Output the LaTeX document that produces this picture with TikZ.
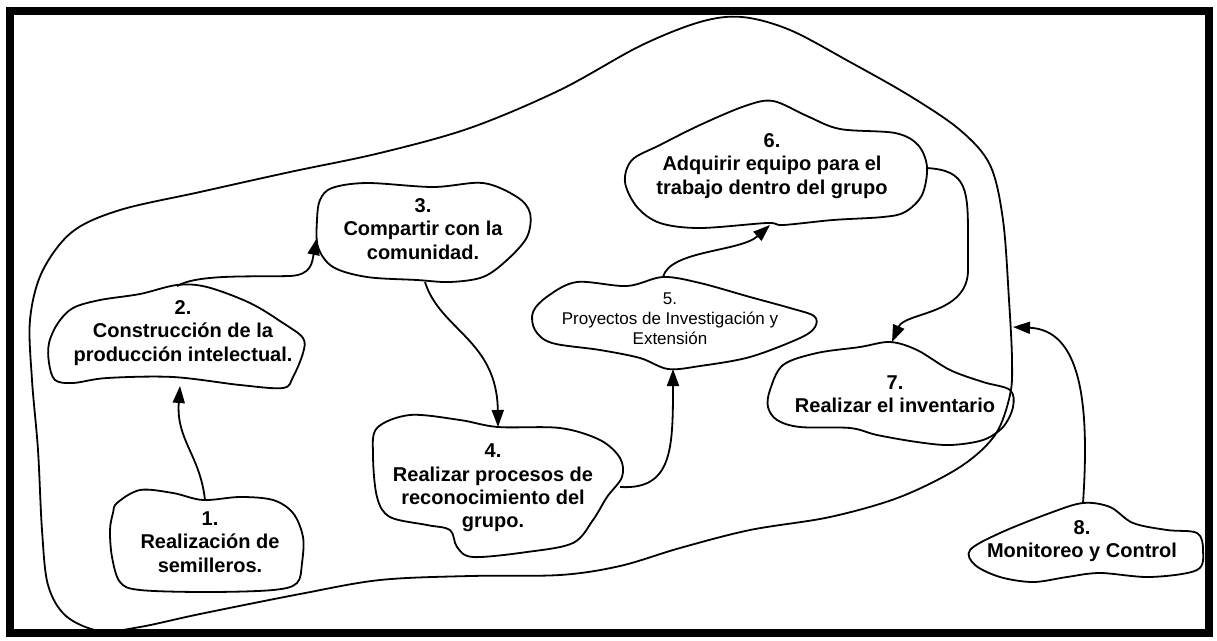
\documentclass[tikz,border=0pt]{standalone}
\usepackage{fontspec}
\setmainfont{Liberation Sans}
\usetikzlibrary{arrows.meta}
\begin{document}
\begin{tikzpicture}[x=1pt,y=-1pt,
  blob/.style={draw=black,line width=1.8pt,line join=round},
  label/.style={align=center,inner sep=0pt,font=\bfseries\fontsize{20}{23.3}\selectfont},
  smalllabel/.style={align=center,inner sep=0pt,font=\fontsize{17}{20}\selectfont},
  link/.style={draw=black,line width=1.8pt,-{Triangle[length=17pt,width=12pt]}}]
\useasboundingbox (0,0) rectangle (1217,640);
% frame
\draw[line width=8pt] (10,11) rectangle (1209,632.5);

% large enclosing outline
\draw[blob] plot[smooth cycle,tension=0.55] coordinates {
 (100,631) (66,616) (48,585) (42,530) (38,450) (32,380) (30,320) (42,272)
 (72,232) (120,210) (200,192) (290,172) (380,153) (470,128) (560,90)
 (640,46) (700,22) (742,17) (790,30) (850,62) (910,96) (960,130)
 (990,165) (1003,220) (1009,300) (1012,360) (1010,395) (995,435)
 (960,467) (900,497) (830,517) (750,530) (680,548) (620,566) (560,575)
 (470,576) (380,580) (300,594) (200,614) (140,627)};

% step outlines
\draw[blob] plot[smooth cycle,tension=0.55] coordinates {
 (117,503) (140,490) (173,493) (203,500) (240,497) (273,500) (293,513)
 (303,537) (302,563) (297,583) (273,590) (207,592) (140,590) (120,582)
 (112,557) (110,530) (113,513)};
\draw[blob] plot[smooth cycle,tension=0.55] coordinates {
 (100,300) (140,294) (177,285) (207,287) (250,303) (283,323) (303,338)
 (303,353) (293,377) (283,388) (240,385) (173,377) (107,378) (73,383)
 (55,380) (49,363) (49,343) (58,323) (73,308)};
\draw[blob] plot[smooth cycle,tension=0.55] coordinates {
 (320,200) (332,188) (367,183) (433,187) (483,183) (517,197) (530,213)
 (527,237) (507,260) (483,277) (450,282) (417,280) (367,277) (333,267)
 (318,247) (317,220)};
\draw[blob] plot[smooth cycle,tension=0.55] coordinates {
 (377,428) (410,415) (460,420) (498,427) (560,428) (600,440) (620,458)
 (622,477) (607,497) (593,520) (573,543) (527,552) (473,557) (457,547)
 (450,530) (427,525) (390,517) (377,497) (373,455)};
\draw[blob] plot[smooth cycle,tension=0.55] coordinates {
 (533,312) (548,296) (577,282) (627,286) (663,277) (700,283) (750,297)
 (790,308) (814,316) (815,327) (800,338) (750,357) (700,366) (668,369)
 (640,358) (600,350) (552,343) (535,330)};
\draw[blob] plot[smooth cycle,tension=0.55] coordinates {
 (632,160) (660,145) (700,125) (745,106) (773,101) (807,116) (840,129)
 (895,133) (918,145) (927,167) (922,195) (905,212) (883,217) (833,220)
 (783,225) (767,223) (700,228) (660,223) (637,207) (625,182)};
\draw[blob] plot[smooth cycle,tension=0.55] coordinates {
 (770,390) (783,365) (817,353) (860,347) (890,342) (917,350) (950,370)
 (983,382) (1010,390) (1013,407) (1003,427) (983,440) (950,445)
 (917,442) (877,435) (850,428) (800,427) (777,420) (768,407)};
\draw[blob] plot[smooth cycle,tension=0.55] coordinates {
 (1050,513) (1083,503) (1110,507) (1133,523) (1167,530) (1197,533)
 (1203,550) (1197,570) (1150,577) (1100,573) (1067,577) (1033,582)
 (1000,577) (975,565) (970,550) (1000,533)};

% step texts
\node[label] (n1) at (210,542) {1.\\Realización de\\semilleros.};
\node[label] (n2) at (183,333) {2.\\Construcción de la\\producción intelectual.};
\node[label] (n3) at (423,229) {3.\\Compartir con la\\comunidad.};
\node[label] (n4) at (493,488) {4.\\Realizar procesos de\\reconocimiento del\\grupo.};
\node[smalllabel] (n5) at (670,319) {5.\\Proyectos de Investigación y\\Extensión};
\node[label] (n6) at (772,166) {6.\\Adquirir equipo para el\\trabajo dentro del grupo};
\node[label] (n7) at (895,394) {7.\\Realizar el inventario};
\node[label] (n8) at (1082,541) {8.\\Monitoreo y Control};

% connector end points on the outlines
\coordinate (p1) at (205,500);
\coordinate (q2) at (180,386);
\coordinate (p2) at (177,286);
\coordinate (q3) at (317,238);
\coordinate (p3) at (425,282);
\coordinate (q4) at (498,427);
\coordinate (p4) at (620,487);
\coordinate (q5) at (673,369);
\coordinate (p5) at (663,277);
\coordinate (q6) at (770,225);
\coordinate (p6) at (926,168);
\coordinate (q7) at (892,342);
\coordinate (p8) at (1083,503);
\coordinate (qo) at (1013,327);

% connectors
\draw[link] (p1) .. controls (200,455) and (176,440) .. (q2);
\draw[link] (p2) .. controls (198,274) and (250,277) .. (290,276)
  .. controls (312,275) and (312,262) .. (q3);
\draw[link] (p3) .. controls (440,330) and (497,340) .. (q4);
\draw[link] (p4) .. controls (672,490) and (673,450) .. (q5);
\draw[link] (p5) .. controls (670,250) and (740,252) .. (q6);
\draw[link] (p6) .. controls (968,170) and (968,190) .. (968,240)
  -- (968,270) .. controls (968,315) and (905,312) .. (q7);
\draw[link] (p8) .. controls (1090,400) and (1080,330) .. (qo);
\end{tikzpicture}
\end{document}
